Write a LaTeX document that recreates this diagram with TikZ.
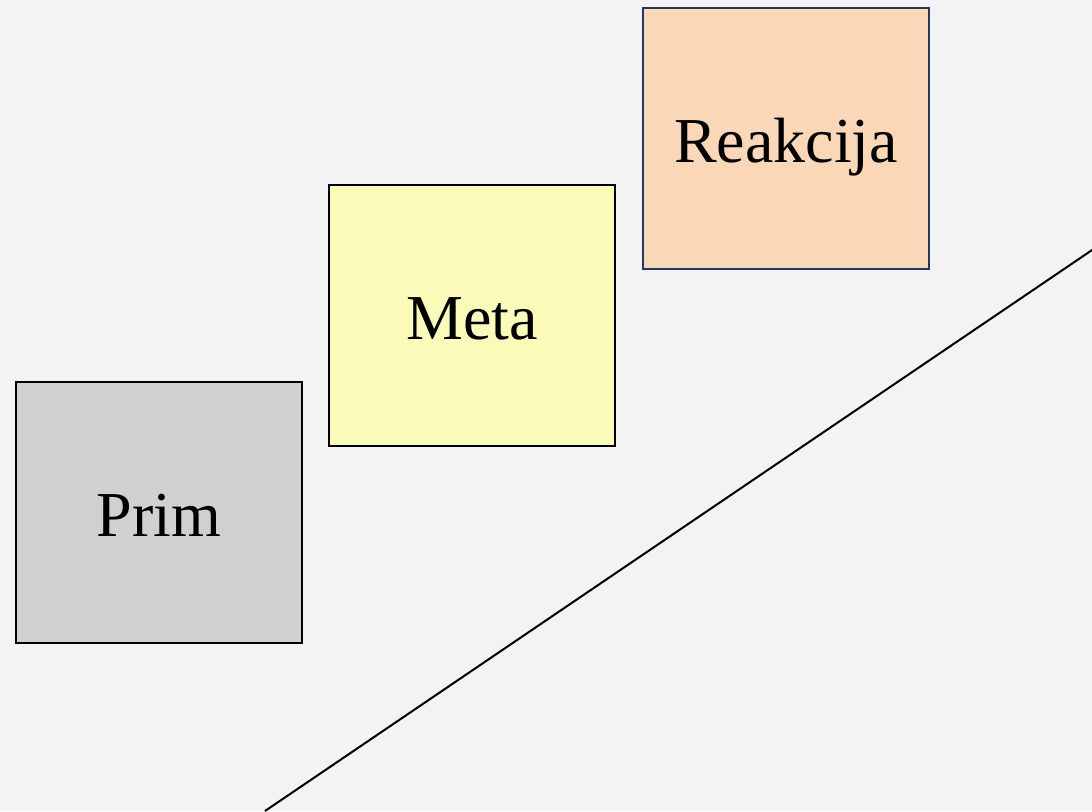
\documentclass[tikz,border=0pt]{standalone}
\usepackage{fontspec}
\setmainfont{Liberation Serif}
\definecolor{bg}{HTML}{F3F3F3}
\definecolor{primfill}{HTML}{D0D0D0}
\definecolor{metafill}{HTML}{FAFAB9}
\definecolor{reakfill}{HTML}{FAD7B6}
\definecolor{reakline}{HTML}{1F3864}
\tikzset{
  card/.style={draw=black, line width=1.4pt, minimum width=286pt, minimum height=261pt,
    inner sep=0pt, font=\fontsize{64}{70}\selectfont, text height=47pt, text depth=0pt},
}
\begin{document}
\begin{tikzpicture}[x=1pt,y=-1pt]
  \fill[bg] (0,0) rectangle (1092,811);
  \useasboundingbox (0,0) rectangle (1092,811);
  \node[card, fill=primfill] (prim) at (159,512.5) {Prim};
  \node[card, fill=metafill] (meta) at (472,315.5) {Meta};
  \node[card, fill=reakfill, draw=reakline] (reak) at (786,138.5) {Reakcija};
  % rising axis, running off the right edge
  \coordinate (axisstart) at (265,811);
  \coordinate (axisend) at (1098,246);
  \begin{scope}
    \clip (0,0) rectangle (1092,811);
    \draw[line width=2pt] (axisstart) -- (axisend);
  \end{scope}
\end{tikzpicture}
\end{document}
